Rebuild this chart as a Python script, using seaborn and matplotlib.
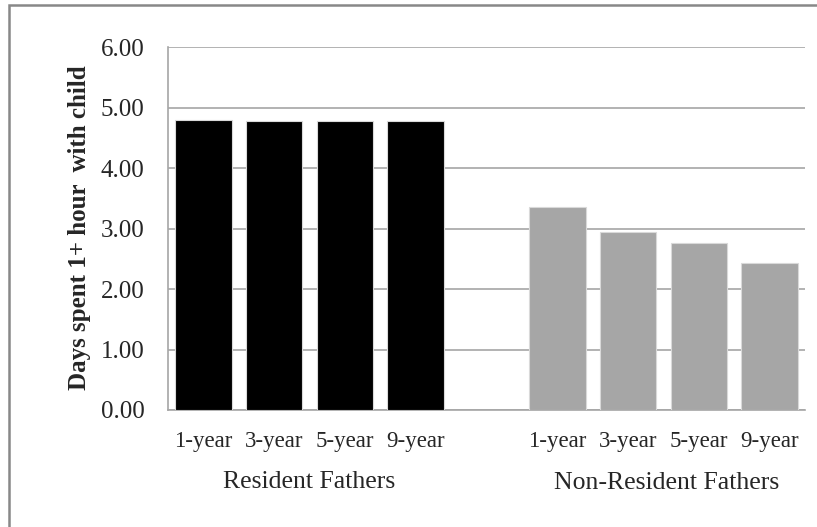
import matplotlib
matplotlib.use('Agg')
import matplotlib.pyplot as plt
import matplotlib.patches as mpatches
import matplotlib.transforms as mtransforms
import numpy as np
import pandas as pd
import seaborn as sns

# data
waves = ['1-year', '3-year', '5-year', '9-year']
groups = ['Resident Fathers', 'Non-Resident Fathers']
resident = [4.80, 4.78, 4.78, 4.78]
non_resident = [3.35, 2.94, 2.76, 2.44]
yticks = [0, 1, 2, 3, 4, 5, 6]

GRID = '#a6a6a6'
colors = {'Resident Fathers': 'black', 'Non-Resident Fathers': '#a6a6a6'}

# one slot per bar, with an empty slot between the two groups
keys_res = ['R ' + w for w in waves]
keys_non = ['N ' + w for w in waves]
order = keys_res + ['gap'] + keys_non
df = pd.DataFrame({
    'slot': keys_res + keys_non,
    'days': resident + non_resident,
    'group': [groups[0]] * 4 + [groups[1]] * 4,
})

sns.set_style('white')
plt.rcParams['font.family'] = ['Liberation Serif', 'DejaVu Serif']

W, H = 817, 527
fig = plt.figure(figsize=(W / 100, H / 100), dpi=100)
ax = fig.add_axes([168 / W, (H - 410) / H, (805 - 168) / W, (410 - 47.3) / H])

sns.barplot(data=df, x='slot', y='days', hue='group', order=order,
            palette=colors, dodge=False, width=0.8, legend=False,
            edgecolor='#d9d9d9', linewidth=0.8, ax=ax, zorder=3)

ax.set_ylim(0, 6)
ax.set_xlim(-0.5, len(order) - 0.5)
ax.set_yticks(yticks)
ax.set_yticklabels(['%.2f' % v for v in yticks], fontsize=18)
ax.yaxis.grid(True, color=GRID, linewidth=1.2, zorder=0)
ax.set_axisbelow(True)

# tick marks between categories, labels at centres
ax.set_xticks(np.arange(len(order) + 1) - 0.5)
ax.set_xticklabels([])
centres = [order.index(k) for k in keys_res + keys_non]
ax.set_xticks(centres, minor=True)
ax.set_xticklabels(waves + waves, minor=True, fontsize=16.5)
ax.tick_params(axis='x', which='major', length=7, color=GRID, width=1.2, direction='out')
ax.tick_params(axis='x', which='minor', length=0, pad=15)
ax.tick_params(axis='y', length=7, color=GRID, width=1.2, direction='out', pad=10)

for s in ['top', 'right']:
    ax.spines[s].set_visible(False)
for s in ['left', 'bottom']:
    ax.spines[s].set_color(GRID)
    ax.spines[s].set_linewidth(1.2)

ax.set_xlabel('')
ax.set_ylabel('')
fig.text(80 / W, (H - 228) / H, 'Days spent 1+ hour  with child', rotation=90,
         ha='center', va='center', fontsize=18, fontweight='bold')

# group labels under the categories
trans = mtransforms.blended_transform_factory(ax.transData, fig.transFigure)
ax.text(np.mean(centres[:4]), (H - 482) / H, groups[0], transform=trans,
        ha='center', va='center', fontsize=18.5)
ax.text(np.mean(centres[4:]) + 0.05, (H - 483) / H, groups[1], transform=trans,
        ha='center', va='center', fontsize=18.5)

# chart-area frame (only top and left edges visible in the crop)
fig.patches.append(mpatches.Rectangle((8.5 / W, -0.5), 2, 1.5 - 4.5 / H, transform=fig.transFigure,
                                      fill=False, edgecolor='#888888', linewidth=1.8))

fig.savefig('out.png', dpi=100)
